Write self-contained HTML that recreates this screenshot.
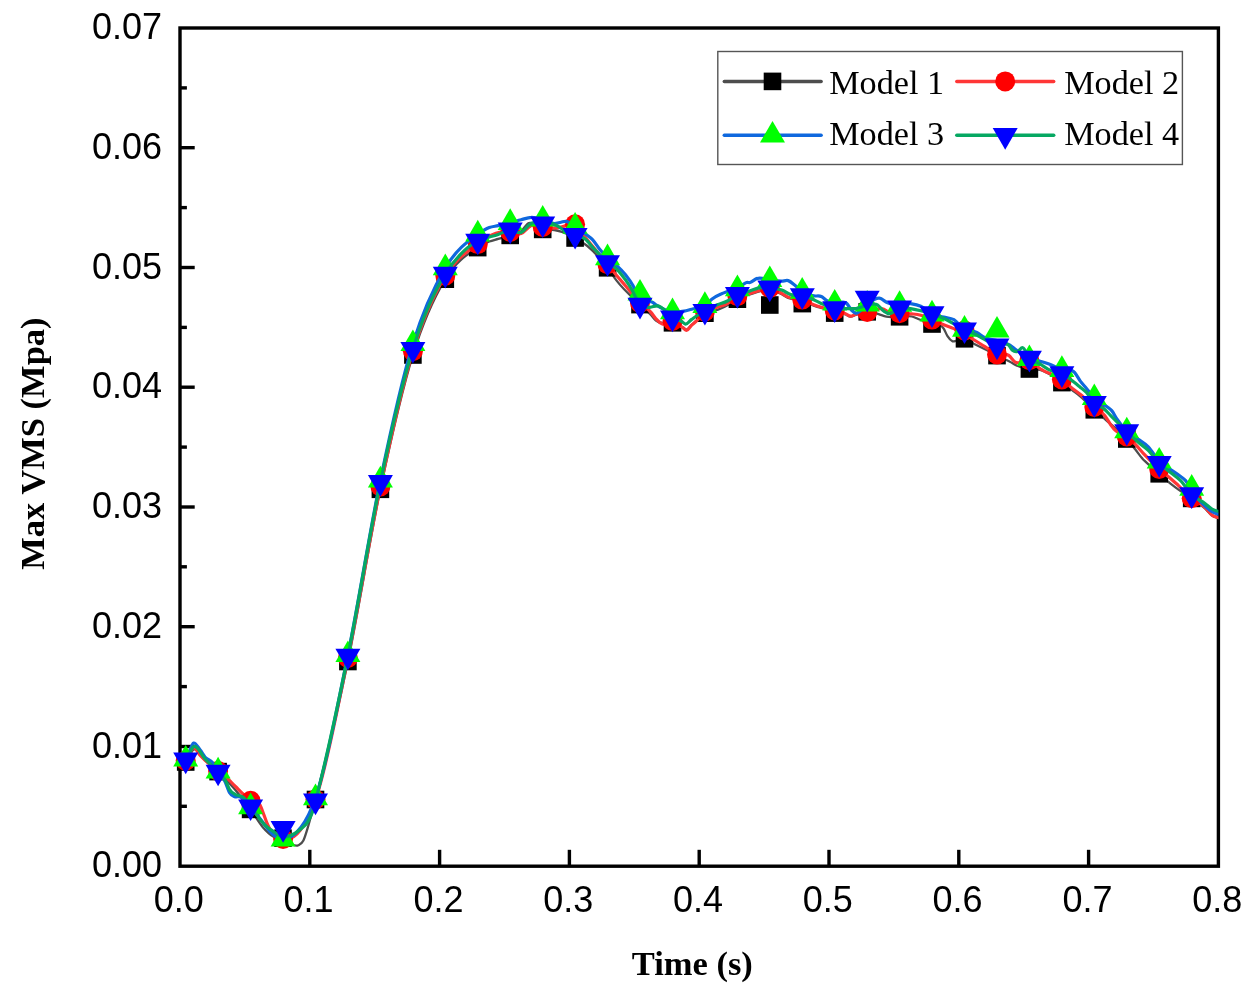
<!DOCTYPE html>
<html lang="en">
<head>
<meta charset="utf-8">
<title>Max VMS vs Time</title>
<style>
html,body{margin:0;padding:0;background:#fff;}
body{width:1256px;height:993px;overflow:hidden;}
svg{display:block;filter:blur(0.45px);}
</style>
</head>
<body>
<svg width="1256" height="993" viewBox="0 0 1256 993">
<defs><clipPath id="plot"><rect x="175.0" y="28.0" width="1043.4" height="838.2"/></clipPath></defs>
<rect width="1256" height="993" fill="#fff"/>
<g stroke="#000" stroke-width="3.4" fill="none">
<path d="M309.8 866.2V849.8"/>
<path d="M439.6 866.2V849.8"/>
<path d="M569.4 866.2V849.8"/>
<path d="M699.2 866.2V849.8"/>
<path d="M829.0 866.2V849.8"/>
<path d="M958.8 866.2V849.8"/>
<path d="M1088.6 866.2V849.8"/>
<path d="M180.0 806.3H186.9"/>
<path d="M180.0 746.5H194.7"/>
<path d="M180.0 686.6H186.9"/>
<path d="M180.0 626.7H194.7"/>
<path d="M180.0 566.8H186.9"/>
<path d="M180.0 507.0H194.7"/>
<path d="M180.0 447.1H186.9"/>
<path d="M180.0 387.2H194.7"/>
<path d="M180.0 327.4H186.9"/>
<path d="M180.0 267.5H194.7"/>
<path d="M180.0 207.6H186.9"/>
<path d="M180.0 147.7H194.7"/>
<path d="M180.0 87.9H186.9"/>
</g>
<rect x="180.0" y="28.0" width="1038.4" height="838.2" fill="none" stroke="#000" stroke-width="3.4"/>
<path clip-path="url(#plot)" d="M180.0 761.0C181.9 761.3 183.8 763.1 185.7 762.0C188.3 760.5 191.0 750.9 193.6 749.5C197.4 747.4 201.2 757.0 205.0 760.5C209.4 764.5 213.7 767.5 218.1 771.6C228.9 781.8 239.8 794.5 250.6 809.4C254.7 815.1 258.9 822.7 263.0 827.4C266.4 831.3 269.8 834.5 273.2 836.5C276.5 838.5 279.8 838.0 283.1 839.5C285.4 840.6 287.7 842.6 290.0 843.5C292.8 844.6 295.5 846.6 298.3 845.2C300.0 844.4 301.7 844.0 303.4 840.5C304.7 837.8 306.1 833.2 307.4 828.9C308.4 825.6 309.4 821.9 310.4 818.3C322.9 773.5 335.4 721.2 347.9 661.5C358.7 609.7 369.6 540.4 380.4 489.3C391.2 438.2 402.1 390.0 412.9 355.0C423.7 320.1 434.5 297.1 445.3 279.2C456.1 261.2 467.0 254.6 477.8 247.6C481.6 245.1 485.5 243.0 489.3 241.5C492.3 240.3 495.2 239.8 498.2 238.9C502.2 237.7 506.2 236.7 510.2 235.4C513.8 234.2 517.4 234.3 521.0 231.5C523.6 229.5 526.2 223.9 528.8 223.0C530.9 222.3 532.9 223.6 535.0 224.5C537.6 225.6 540.1 228.4 542.7 229.4C546.6 231.0 550.4 229.3 554.3 230.0C556.8 230.4 559.4 231.1 561.9 231.9C566.3 233.3 570.7 235.5 575.1 238.0C579.2 240.3 583.3 242.7 587.4 246.0C594.1 251.5 600.8 259.0 607.5 267.8C610.5 271.8 613.6 276.7 616.6 280.6C624.4 290.7 632.2 297.0 640.0 304.6C643.7 308.2 647.3 311.0 651.0 315.0C652.7 316.8 654.3 319.2 656.0 320.7C661.5 325.7 667.0 321.1 672.5 322.8C675.9 323.9 679.4 325.2 682.8 327.2C684.1 327.9 685.3 329.7 686.6 329.6C688.3 329.5 690.0 326.3 691.7 324.8C693.4 323.3 695.1 321.9 696.8 320.4C699.5 318.0 702.2 314.9 704.9 313.2C709.0 310.6 713.1 311.4 717.2 309.9C720.6 308.7 724.0 307.6 727.4 305.4C730.7 303.3 734.1 299.1 737.4 297.2C741.6 294.9 745.8 295.5 750.0 294.3C752.5 293.6 755.1 292.5 757.6 291.8C761.7 290.7 765.7 289.1 769.8 289.5C773.8 289.9 777.8 292.2 781.8 294.3C783.9 295.4 786.1 297.0 788.2 298.0C792.9 300.1 797.5 299.1 802.2 300.6C806.0 301.8 809.9 304.2 813.7 305.6C816.2 306.5 818.8 307.3 821.3 308.0C825.8 309.3 830.2 310.2 834.7 311.4C838.3 312.4 841.9 313.0 845.5 314.4C847.2 315.0 848.9 316.5 850.6 316.6C852.3 316.7 854.0 315.5 855.7 315.0C859.5 313.8 863.4 311.7 867.2 311.6C871.0 311.5 874.9 313.0 878.7 314.1C881.2 314.9 883.8 316.2 886.3 316.7C890.7 317.7 895.2 316.8 899.6 316.8C903.7 316.8 907.7 315.5 911.8 316.5C913.9 317.0 916.1 318.2 918.2 319.0C922.8 320.8 927.4 322.3 932.0 324.0C935.9 325.5 939.8 322.3 943.7 328.6C945.0 330.6 946.2 334.2 947.5 336.2C949.2 338.9 950.9 340.7 952.6 341.3C953.9 341.7 955.1 340.9 956.4 340.7C959.1 340.2 961.8 338.5 964.5 338.8C967.8 339.1 971.0 342.2 974.3 343.9C977.7 345.6 981.1 347.3 984.5 349.0C988.7 351.1 992.8 353.5 997.0 355.6C1001.3 357.8 1005.7 359.3 1010.0 361.7C1012.0 362.8 1014.0 364.2 1016.0 365.2C1020.5 367.4 1024.9 368.2 1029.4 369.0C1033.0 369.6 1036.6 368.9 1040.2 370.0C1042.9 370.8 1045.6 372.2 1048.3 373.6C1052.8 376.0 1057.4 379.4 1061.9 382.6C1065.4 385.1 1068.9 387.8 1072.4 390.4C1075.1 392.4 1077.8 394.3 1080.5 396.5C1085.1 400.3 1089.7 405.6 1094.3 409.8C1098.2 413.4 1102.1 416.6 1106.0 420.1C1112.9 426.3 1119.9 431.1 1126.8 439.0C1129.6 442.2 1132.4 445.8 1135.2 449.3C1137.6 452.3 1139.9 455.8 1142.3 458.4C1143.6 459.9 1145.0 461.1 1146.3 462.4C1150.6 466.6 1154.9 470.0 1159.2 473.8C1163.0 477.1 1166.7 480.6 1170.5 483.6C1173.2 485.7 1175.8 487.7 1178.5 489.6C1182.9 492.8 1187.3 495.3 1191.7 498.4C1196.1 501.6 1200.6 504.4 1205.0 508.5C1207.3 510.6 1209.7 513.9 1212.0 515.5C1214.2 517.0 1216.4 517.4 1218.6 518.2C1220.7 518.9 1222.9 519.4 1225.0 520.0" fill="none" stroke="#4d4d4d" stroke-width="2.3" stroke-linejoin="round" stroke-linecap="round"/>
<g><rect x="176.9" y="753.2" width="17.6" height="17.6" fill="#000000"/><rect x="209.3" y="762.8" width="17.6" height="17.6" fill="#000000"/><rect x="241.8" y="800.6" width="17.6" height="17.6" fill="#000000"/><rect x="274.2" y="829.4" width="17.6" height="17.6" fill="#000000"/><rect x="306.7" y="790.7" width="17.6" height="17.6" fill="#000000"/><rect x="339.1" y="652.7" width="17.6" height="17.6" fill="#000000"/><rect x="371.6" y="480.5" width="17.6" height="17.6" fill="#000000"/><rect x="404.1" y="346.2" width="17.6" height="17.6" fill="#000000"/><rect x="436.5" y="270.4" width="17.6" height="17.6" fill="#000000"/><rect x="468.9" y="238.8" width="17.6" height="17.6" fill="#000000"/><rect x="501.4" y="226.6" width="17.6" height="17.6" fill="#000000"/><rect x="533.9" y="220.6" width="17.6" height="17.6" fill="#000000"/><rect x="566.3" y="229.2" width="17.6" height="17.6" fill="#000000"/><rect x="598.8" y="259.0" width="17.6" height="17.6" fill="#000000"/><rect x="631.2" y="295.8" width="17.6" height="17.6" fill="#000000"/><rect x="663.7" y="314.0" width="17.6" height="17.6" fill="#000000"/><rect x="696.1" y="304.4" width="17.6" height="17.6" fill="#000000"/><rect x="728.6" y="290.4" width="17.6" height="17.6" fill="#000000"/><rect x="761.0" y="296.2" width="17.6" height="17.6" fill="#000000"/><rect x="793.5" y="294.8" width="17.6" height="17.6" fill="#000000"/><rect x="825.9" y="304.3" width="17.6" height="17.6" fill="#000000"/><rect x="858.4" y="303.0" width="17.6" height="17.6" fill="#000000"/><rect x="890.8" y="308.0" width="17.6" height="17.6" fill="#000000"/><rect x="923.2" y="315.2" width="17.6" height="17.6" fill="#000000"/><rect x="955.7" y="330.0" width="17.6" height="17.6" fill="#000000"/><rect x="988.2" y="346.8" width="17.6" height="17.6" fill="#000000"/><rect x="1020.6" y="360.2" width="17.6" height="17.6" fill="#000000"/><rect x="1053.1" y="373.8" width="17.6" height="17.6" fill="#000000"/><rect x="1085.5" y="401.0" width="17.6" height="17.6" fill="#000000"/><rect x="1118.0" y="430.2" width="17.6" height="17.6" fill="#000000"/><rect x="1150.4" y="465.0" width="17.6" height="17.6" fill="#000000"/><rect x="1182.9" y="489.6" width="17.6" height="17.6" fill="#000000"/></g>
<path clip-path="url(#plot)" d="M180.0 760.5C181.9 760.6 183.8 762.0 185.7 760.7C188.3 758.9 191.0 747.9 193.6 747.6C195.8 747.4 198.0 753.0 200.2 755.4C206.2 762.0 212.1 766.0 218.1 771.0C221.5 773.8 225.0 776.1 228.4 779.3C230.7 781.5 233.1 784.0 235.4 786.4C238.1 789.1 240.8 792.0 243.5 794.5C245.9 796.7 248.2 799.1 250.6 800.7C253.7 802.9 256.9 799.1 260.0 805.0C261.4 807.6 262.7 811.7 264.1 815.3C265.1 817.9 266.1 821.0 267.1 823.4C272.4 836.3 277.8 837.7 283.1 839.0C293.9 841.7 304.7 829.7 315.5 799.5C326.3 769.3 337.1 710.1 347.9 658.0C358.7 605.8 369.6 537.6 380.4 486.5C391.2 435.4 402.1 386.5 412.9 351.3C423.7 316.3 434.5 293.6 445.3 275.7C456.1 257.8 467.0 252.2 477.8 244.1C482.5 240.6 487.1 237.2 491.8 235.0C494.4 233.8 496.9 232.8 499.5 232.2C503.1 231.4 506.6 231.8 510.2 232.0C513.8 232.2 517.5 234.7 521.1 233.5C524.5 232.3 527.9 226.7 531.3 225.5C535.1 224.1 538.9 226.5 542.7 226.9C546.6 227.3 550.4 228.3 554.3 228.1C556.8 227.9 559.4 227.3 561.9 226.8C566.3 226.0 570.7 221.7 575.1 224.3C579.1 226.6 583.0 234.5 587.0 239.5C593.8 248.0 600.7 255.8 607.5 264.2C610.5 267.9 613.6 271.9 616.6 275.5C619.6 279.0 622.5 282.2 625.5 285.7C630.3 291.3 635.2 298.2 640.0 303.0C643.7 306.7 647.3 308.2 651.0 312.4C652.7 314.3 654.3 317.0 656.0 318.8C658.1 321.1 660.3 323.1 662.4 323.9C665.8 325.2 669.1 320.4 672.5 321.0C675.9 321.6 679.4 325.4 682.8 327.7C684.1 328.6 685.3 330.3 686.6 330.3C688.3 330.2 690.0 326.8 691.7 325.2C693.4 323.6 695.1 322.4 696.8 320.7C699.5 318.0 702.2 313.6 704.9 311.4C709.0 308.0 713.1 308.8 717.2 307.3C720.6 306.1 724.0 305.4 727.4 303.5C730.7 301.6 734.1 297.8 737.4 296.1C741.4 294.1 745.5 294.7 749.5 293.6C752.6 292.8 755.7 291.6 758.8 290.8C762.5 289.8 766.1 288.2 769.8 288.5C773.8 288.8 777.8 291.2 781.8 293.3C783.9 294.4 786.1 296.1 788.2 297.1C792.9 299.3 797.5 298.1 802.2 299.6C806.0 300.9 809.9 303.4 813.7 304.8C816.2 305.8 818.8 306.6 821.3 307.3C825.8 308.6 830.2 309.2 834.7 310.4C838.3 311.4 841.9 312.1 845.5 313.7C847.2 314.4 848.9 316.1 850.6 316.2C852.3 316.3 854.0 314.8 855.7 314.3C859.5 313.1 863.4 312.7 867.2 312.0C872.7 311.0 878.3 306.8 883.8 309.2C885.5 309.9 887.2 311.6 888.9 312.4C892.5 314.0 896.0 313.1 899.6 313.3C903.7 313.6 907.7 313.5 911.8 313.9C914.8 314.2 917.8 314.4 920.8 315.2C924.5 316.2 928.3 318.0 932.0 319.6C935.9 321.2 939.8 323.2 943.7 324.8C947.1 326.2 950.5 327.1 953.9 328.6C957.4 330.2 961.0 332.2 964.5 334.2C967.8 336.0 971.0 338.0 974.3 340.0C977.7 342.1 981.1 344.2 984.5 346.4C988.7 349.0 992.8 352.9 997.0 354.4C1000.9 355.8 1004.8 352.6 1008.7 355.4C1010.8 356.9 1012.9 360.5 1015.0 362.0C1019.8 365.3 1024.6 358.4 1029.4 360.3C1033.0 361.7 1036.6 366.3 1040.2 368.8C1047.4 373.8 1054.7 374.1 1061.9 379.4C1065.4 382.0 1068.9 385.6 1072.4 388.4C1075.1 390.6 1077.8 392.3 1080.5 394.5C1085.1 398.2 1089.7 403.0 1094.3 407.0C1097.8 410.0 1101.2 411.2 1104.7 415.6C1106.7 418.1 1108.7 422.0 1110.7 424.7C1112.2 426.7 1113.6 428.7 1115.1 430.2C1119.0 434.3 1122.9 433.5 1126.8 436.4C1130.0 438.8 1133.1 442.0 1136.3 445.3C1139.0 448.1 1141.6 451.5 1144.3 454.4C1149.3 459.8 1154.2 464.5 1159.2 469.0C1163.0 472.4 1166.7 475.2 1170.5 478.5C1173.2 480.8 1175.8 483.2 1178.5 485.6C1182.9 489.6 1187.3 494.6 1191.7 498.2C1196.1 501.9 1200.6 503.1 1205.0 507.4C1207.3 509.6 1209.7 513.4 1212.0 515.1C1214.2 516.7 1216.4 516.9 1218.6 517.6C1220.7 518.2 1222.9 518.5 1225.0 519.0" fill="none" stroke="#FF3636" stroke-width="3.2" stroke-linejoin="round" stroke-linecap="round"/>
<g><circle cx="185.7" cy="760.7" r="10.0" fill="#FF0000"/><circle cx="218.1" cy="771.0" r="10.0" fill="#FF0000"/><circle cx="250.6" cy="800.7" r="10.0" fill="#FF0000"/><circle cx="283.1" cy="839.0" r="10.0" fill="#FF0000"/><circle cx="315.5" cy="799.5" r="10.0" fill="#FF0000"/><circle cx="347.9" cy="658.0" r="10.0" fill="#FF0000"/><circle cx="380.4" cy="486.5" r="10.0" fill="#FF0000"/><circle cx="412.9" cy="351.3" r="10.0" fill="#FF0000"/><circle cx="445.3" cy="275.7" r="10.0" fill="#FF0000"/><circle cx="477.8" cy="244.1" r="10.0" fill="#FF0000"/><circle cx="510.2" cy="232.0" r="10.0" fill="#FF0000"/><circle cx="542.7" cy="226.9" r="10.0" fill="#FF0000"/><circle cx="575.1" cy="224.3" r="10.0" fill="#FF0000"/><circle cx="607.5" cy="264.2" r="10.0" fill="#FF0000"/><circle cx="640.0" cy="303.0" r="10.0" fill="#FF0000"/><circle cx="672.5" cy="321.0" r="10.0" fill="#FF0000"/><circle cx="704.9" cy="311.4" r="10.0" fill="#FF0000"/><circle cx="737.4" cy="296.1" r="10.0" fill="#FF0000"/><circle cx="769.8" cy="288.0" r="10.0" fill="#FF0000"/><circle cx="802.2" cy="299.6" r="10.0" fill="#FF0000"/><circle cx="834.7" cy="310.4" r="10.0" fill="#FF0000"/><circle cx="867.2" cy="312.0" r="10.0" fill="#FF0000"/><circle cx="899.6" cy="313.3" r="10.0" fill="#FF0000"/><circle cx="932.0" cy="319.6" r="10.0" fill="#FF0000"/><circle cx="964.5" cy="330.5" r="10.0" fill="#FF0000"/><circle cx="997.0" cy="354.4" r="10.0" fill="#FF0000"/><circle cx="1029.4" cy="360.3" r="10.0" fill="#FF0000"/><circle cx="1061.9" cy="379.4" r="10.0" fill="#FF0000"/><circle cx="1094.3" cy="407.0" r="10.0" fill="#FF0000"/><circle cx="1126.8" cy="436.4" r="10.0" fill="#FF0000"/><circle cx="1159.2" cy="469.0" r="10.0" fill="#FF0000"/><circle cx="1191.7" cy="498.2" r="10.0" fill="#FF0000"/></g>
<path clip-path="url(#plot)" d="M180.0 758.0C181.9 758.4 183.8 760.7 185.7 759.3C188.3 757.4 191.0 744.0 193.6 743.1C195.8 742.3 198.0 747.3 200.2 750.1C201.9 752.2 203.5 755.3 205.2 757.2C207.6 759.9 209.9 759.4 212.3 762.2C214.2 764.5 216.2 768.2 218.1 771.2C220.5 775.0 223.0 777.1 225.4 782.4C226.7 785.3 228.1 790.1 229.4 792.4C231.1 795.3 232.7 795.7 234.4 796.5C236.4 797.5 238.5 796.1 240.5 797.0C243.9 798.4 247.2 803.7 250.6 807.0C261.4 817.7 272.3 840.8 283.1 839.3C293.9 837.8 304.7 828.8 315.5 798.0C326.3 767.2 337.1 707.7 347.9 654.8C358.7 601.8 369.6 532.0 380.4 480.2C391.2 428.4 402.1 379.2 412.9 343.8C423.7 308.5 434.5 286.3 445.3 268.0C456.1 249.7 467.0 241.8 477.8 234.2C481.6 231.5 485.5 228.9 489.3 227.5C492.3 226.4 495.2 226.3 498.2 225.6C502.2 224.7 506.2 223.7 510.2 222.7C513.8 221.8 517.5 220.7 521.1 219.8C524.5 218.9 527.9 217.4 531.3 217.3C535.1 217.1 538.9 218.4 542.7 219.4C546.6 220.4 550.4 223.5 554.3 223.5C556.5 223.5 558.8 222.6 561.0 222.2C562.6 221.9 564.1 221.2 565.7 221.3C568.8 221.5 572.0 224.5 575.1 226.5C578.8 228.8 582.4 231.7 586.1 234.5C588.2 236.1 590.4 237.4 592.5 239.6C595.0 242.3 597.6 246.7 600.1 249.8C602.6 252.8 605.0 255.6 607.5 258.0C610.5 260.9 613.6 262.5 616.6 265.3C619.6 268.1 622.5 271.0 625.5 274.8C628.0 278.0 630.6 281.1 633.1 285.7C635.4 289.9 637.7 297.2 640.0 300.5C644.1 306.3 648.1 299.9 652.2 302.2C653.5 302.9 654.7 304.0 656.0 304.8C661.5 308.3 667.0 311.3 672.5 312.0C676.4 312.5 680.2 311.8 684.1 311.1C686.6 310.6 689.2 309.8 691.7 309.2C696.1 308.1 700.5 308.8 704.9 305.7C707.3 304.0 709.7 300.8 712.1 299.0C715.1 296.7 718.0 295.3 721.0 294.0C722.7 293.2 724.4 292.6 726.1 292.0C729.9 290.7 733.6 290.9 737.4 289.0C740.4 287.4 743.5 283.1 746.5 282.5C747.7 282.3 748.8 282.7 750.0 282.5C752.4 282.0 754.8 279.1 757.2 278.4C761.4 277.0 765.6 279.4 769.8 279.9C773.8 280.4 777.8 281.3 781.8 281.2C783.9 281.1 786.1 280.0 788.2 280.6C790.3 281.2 792.5 283.4 794.6 285.0C797.1 286.9 799.7 289.8 802.2 291.5C806.0 294.1 809.9 295.1 813.7 295.9C816.2 296.4 818.8 295.3 821.3 296.5C823.0 297.3 824.7 299.3 826.4 300.3C829.2 302.0 831.9 302.7 834.7 303.3C838.7 304.2 842.8 299.6 846.8 303.5C848.5 305.1 850.2 308.8 851.9 310.5C853.2 311.7 854.4 312.7 855.7 313.1C859.5 314.3 863.4 306.4 867.2 304.0C871.2 301.4 875.3 297.7 879.4 298.2C882.1 298.6 884.8 301.7 887.6 302.8C891.6 304.3 895.6 304.4 899.6 304.6C903.7 304.8 907.7 303.3 911.8 303.8C914.8 304.2 917.8 304.9 920.8 306.3C924.5 308.0 928.3 312.4 932.0 314.2C935.9 316.1 939.8 316.1 943.7 317.1C947.1 318.0 950.5 317.7 953.9 319.7C957.4 321.8 961.0 327.4 964.5 329.5C968.6 332.0 972.7 330.4 976.8 332.4C979.4 333.7 981.9 336.2 984.5 337.5C988.7 339.6 992.8 339.2 997.0 340.5C1001.3 341.8 1005.6 342.5 1009.9 345.2C1011.6 346.3 1013.3 347.8 1015.0 349.0C1019.8 352.5 1024.6 356.9 1029.4 358.9C1033.0 360.4 1036.6 360.2 1040.2 361.2C1042.9 361.9 1045.6 362.7 1048.3 363.7C1052.8 365.3 1057.4 368.3 1061.9 369.7C1066.1 371.0 1070.3 367.7 1074.5 372.3C1076.5 374.5 1078.5 378.7 1080.5 381.4C1082.5 384.1 1084.5 386.0 1086.5 388.4C1089.1 391.5 1091.7 395.3 1094.3 397.9C1098.4 402.1 1102.6 403.3 1106.7 406.5C1108.4 407.8 1110.0 408.6 1111.7 410.6C1113.4 412.6 1115.0 416.1 1116.7 418.6C1120.1 423.6 1123.4 427.8 1126.8 431.1C1130.6 434.9 1134.5 436.5 1138.3 439.3C1141.6 441.7 1145.0 443.4 1148.3 446.8C1151.9 450.5 1155.6 457.5 1159.2 461.3C1163.0 465.2 1166.7 466.8 1170.5 469.5C1173.9 471.9 1177.2 473.9 1180.6 476.5C1182.3 477.8 1183.9 478.6 1185.6 480.6C1187.6 483.1 1189.7 487.9 1191.7 491.0C1196.1 497.8 1200.6 502.0 1205.0 506.0C1207.3 508.1 1209.7 510.2 1212.0 511.6C1214.2 512.9 1216.4 513.7 1218.6 514.4C1220.7 515.1 1222.9 515.5 1225.0 516.0" fill="none" stroke="#0F68DE" stroke-width="3.2" stroke-linejoin="round" stroke-linecap="round"/>
<g><path d="M185.7 744.9L198.2 766.5L173.2 766.5Z" fill="#00FF00"/><path d="M218.1 756.8L230.6 778.4L205.6 778.4Z" fill="#00FF00"/><path d="M250.6 792.6L263.1 814.2L238.1 814.2Z" fill="#00FF00"/><path d="M283.1 824.9L295.6 846.5L270.6 846.5Z" fill="#00FF00"/><path d="M315.5 783.6L328.0 805.2L303.0 805.2Z" fill="#00FF00"/><path d="M347.9 640.4L360.4 662.0L335.4 662.0Z" fill="#00FF00"/><path d="M380.4 465.8L392.9 487.4L367.9 487.4Z" fill="#00FF00"/><path d="M412.9 329.4L425.4 351.0L400.4 351.0Z" fill="#00FF00"/><path d="M445.3 253.6L457.8 275.2L432.8 275.2Z" fill="#00FF00"/><path d="M477.8 219.8L490.2 241.4L465.2 241.4Z" fill="#00FF00"/><path d="M510.2 208.3L522.7 229.9L497.7 229.9Z" fill="#00FF00"/><path d="M542.7 205.0L555.2 226.6L530.2 226.6Z" fill="#00FF00"/><path d="M575.1 212.1L587.6 233.7L562.6 233.7Z" fill="#00FF00"/><path d="M607.5 243.6L620.0 265.2L595.0 265.2Z" fill="#00FF00"/><path d="M640.0 279.0L652.5 300.6L627.5 300.6Z" fill="#00FF00"/><path d="M672.5 297.6L685.0 319.2L660.0 319.2Z" fill="#00FF00"/><path d="M704.9 291.3L717.4 312.9L692.4 312.9Z" fill="#00FF00"/><path d="M737.4 274.6L749.9 296.2L724.9 296.2Z" fill="#00FF00"/><path d="M769.8 265.5L782.3 287.1L757.3 287.1Z" fill="#00FF00"/><path d="M802.2 277.1L814.8 298.7L789.8 298.7Z" fill="#00FF00"/><path d="M834.7 288.9L847.2 310.5L822.2 310.5Z" fill="#00FF00"/><path d="M867.2 289.9L879.7 311.5L854.7 311.5Z" fill="#00FF00"/><path d="M899.6 290.2L912.1 311.8L887.1 311.8Z" fill="#00FF00"/><path d="M932.0 299.8L944.5 321.4L919.5 321.4Z" fill="#00FF00"/><path d="M964.5 315.1L977.0 336.7L952.0 336.7Z" fill="#00FF00"/><path d="M997.0 315.9L1009.5 337.5L984.5 337.5Z" fill="#00FF00"/><path d="M1029.4 344.5L1041.9 366.1L1016.9 366.1Z" fill="#00FF00"/><path d="M1061.9 355.3L1074.4 376.9L1049.4 376.9Z" fill="#00FF00"/><path d="M1094.3 383.5L1106.8 405.1L1081.8 405.1Z" fill="#00FF00"/><path d="M1126.8 416.7L1139.2 438.3L1114.2 438.3Z" fill="#00FF00"/><path d="M1159.2 446.9L1171.7 468.5L1146.7 468.5Z" fill="#00FF00"/><path d="M1191.7 474.1L1204.2 495.7L1179.2 495.7Z" fill="#00FF00"/></g>
<path clip-path="url(#plot)" d="M180.0 759.0C181.9 759.3 183.8 761.0 185.7 759.8C188.3 758.2 191.0 748.1 193.6 746.6C197.5 744.5 201.3 755.2 205.2 759.2C209.5 763.7 213.8 767.2 218.1 771.9C220.5 774.6 223.0 775.9 225.4 780.4C226.7 782.9 228.1 787.1 229.4 789.4C231.4 792.8 233.4 793.2 235.4 794.5C238.1 796.2 240.8 795.2 243.5 797.5C245.9 799.5 248.2 803.7 250.6 806.7C255.6 813.1 260.6 821.1 265.6 825.7C268.1 828.0 270.7 829.7 273.2 831.4C276.5 833.6 279.8 836.6 283.1 837.0C285.5 837.3 287.9 836.4 290.3 835.5C293.7 834.2 297.0 832.2 300.4 829.4C302.7 827.4 305.1 826.1 307.4 822.4C309.1 819.7 310.7 817.4 312.4 812.3C313.4 809.1 314.5 804.7 315.5 800.8C326.3 760.0 337.1 708.9 347.9 655.9C358.7 602.7 369.6 533.4 380.4 482.3C391.2 431.2 402.1 383.8 412.9 349.1C423.7 314.5 434.5 291.5 445.3 274.0C450.2 266.1 455.1 260.1 460.0 254.9C465.9 248.6 471.9 244.0 477.8 240.9C481.6 238.9 485.5 238.2 489.3 237.0C492.3 236.1 495.2 235.5 498.2 234.5C502.2 233.2 506.2 230.0 510.2 229.8C513.8 229.6 517.5 233.8 521.1 232.5C524.5 231.3 527.9 224.8 531.3 223.2C535.1 221.5 538.9 223.6 542.7 223.7C546.1 223.8 549.6 222.9 553.0 223.9C556.0 224.8 558.9 226.6 561.9 228.8C563.2 229.7 564.4 231.0 565.7 231.9C568.8 234.0 572.0 234.1 575.1 235.2C578.3 236.4 581.6 236.4 584.8 238.8C587.8 241.0 590.8 245.3 593.8 248.5C598.4 253.3 602.9 258.5 607.5 262.4C610.5 265.0 613.6 266.1 616.6 269.1C619.6 272.0 622.5 275.8 625.5 279.9C627.6 282.8 629.7 286.0 631.8 289.5C634.5 294.1 637.3 301.9 640.0 305.0C643.2 308.7 646.5 307.2 649.7 307.3C652.7 307.4 655.6 305.1 658.6 306.1C660.3 306.7 662.0 307.9 663.7 309.2C666.6 311.4 669.6 315.8 672.5 317.8C675.5 319.9 678.5 319.5 681.5 321.3C682.9 322.1 684.2 323.9 685.5 324.1C687.6 324.3 689.6 320.9 691.7 319.4C693.8 317.8 696.0 316.3 698.1 315.0C700.4 313.6 702.6 312.4 704.9 311.1C709.0 308.8 713.1 306.6 717.2 304.8C720.6 303.3 724.0 302.8 727.4 301.0C730.7 299.3 734.1 295.9 737.4 294.3C741.4 292.3 745.5 292.3 749.5 291.1C752.6 290.1 755.7 288.5 758.8 287.9C762.5 287.2 766.1 287.8 769.8 288.1C773.8 288.5 777.8 288.7 781.8 290.1C784.8 291.2 787.8 293.7 790.8 294.6C794.6 295.8 798.4 294.6 802.2 295.4C806.0 296.2 809.9 298.0 813.7 299.7C816.2 300.8 818.8 302.3 821.3 303.5C825.8 305.5 830.2 307.7 834.7 308.5C838.7 309.2 842.8 308.6 846.8 308.6C849.8 308.6 852.7 308.9 855.7 308.6C859.5 308.1 863.4 306.1 867.2 305.5C870.6 304.9 874.0 302.6 877.4 304.8C879.1 305.9 880.8 308.5 882.5 309.9C884.6 311.6 886.7 313.3 888.9 313.7C892.4 314.3 896.0 308.7 899.6 307.8C903.7 306.8 907.7 308.3 911.8 308.9C914.8 309.4 917.8 310.1 920.8 310.8C924.5 311.6 928.3 312.3 932.0 313.5C935.5 314.6 938.9 316.2 942.4 317.8C944.5 318.8 946.7 319.9 948.8 321.0C954.0 323.7 959.3 327.2 964.5 329.6C967.8 331.1 971.0 332.1 974.3 333.7C977.7 335.4 981.1 337.6 984.5 339.4C988.7 341.6 992.8 344.9 997.0 345.8C1000.9 346.7 1004.8 341.3 1008.7 345.2C1010.0 346.5 1011.2 349.2 1012.5 350.3C1014.2 351.8 1015.9 351.9 1017.6 351.5C1019.3 351.1 1021.0 347.3 1022.7 347.7C1024.9 348.2 1027.2 355.4 1029.4 358.0C1033.0 362.2 1036.6 362.0 1040.2 364.2C1042.9 365.8 1045.6 367.9 1048.3 369.3C1052.8 371.6 1057.4 371.1 1061.9 373.5C1064.7 375.0 1067.6 377.2 1070.4 379.3C1073.8 381.8 1077.1 384.6 1080.5 387.4C1082.5 389.0 1084.5 390.2 1086.5 392.4C1089.1 395.2 1091.7 400.7 1094.3 403.3C1097.4 406.5 1100.6 405.9 1103.7 408.5C1106.0 410.4 1108.4 413.3 1110.7 415.6C1112.7 417.6 1114.7 419.6 1116.7 421.6C1120.1 424.9 1123.4 428.3 1126.8 431.5C1130.6 435.2 1134.5 439.0 1138.3 442.3C1141.6 445.2 1145.0 447.1 1148.3 450.4C1151.9 454.0 1155.6 459.7 1159.2 463.3C1163.0 467.1 1166.7 469.5 1170.5 472.5C1173.9 475.2 1177.2 477.2 1180.6 480.6C1184.3 484.4 1188.0 490.8 1191.7 494.5C1196.1 498.9 1200.6 500.2 1205.0 503.5C1207.3 505.2 1209.7 507.6 1212.0 509.0C1214.2 510.3 1216.4 510.9 1218.6 511.6C1220.7 512.3 1222.9 512.5 1225.0 513.0" fill="none" stroke="#06A862" stroke-width="3.2" stroke-linejoin="round" stroke-linecap="round"/>
<g><path d="M185.7 774.2L198.2 752.6L173.2 752.6Z" fill="#0000FF"/><path d="M218.1 786.3L230.6 764.7L205.6 764.7Z" fill="#0000FF"/><path d="M250.6 821.1L263.1 799.5L238.1 799.5Z" fill="#0000FF"/><path d="M283.1 842.7L295.6 821.1L270.6 821.1Z" fill="#0000FF"/><path d="M315.5 815.2L328.0 793.6L303.0 793.6Z" fill="#0000FF"/><path d="M347.9 670.3L360.4 648.7L335.4 648.7Z" fill="#0000FF"/><path d="M380.4 496.7L392.9 475.1L367.9 475.1Z" fill="#0000FF"/><path d="M412.9 363.5L425.4 341.9L400.4 341.9Z" fill="#0000FF"/><path d="M445.3 288.4L457.8 266.8L432.8 266.8Z" fill="#0000FF"/><path d="M477.8 255.3L490.2 233.7L465.2 233.7Z" fill="#0000FF"/><path d="M510.2 244.2L522.7 222.6L497.7 222.6Z" fill="#0000FF"/><path d="M542.7 238.1L555.2 216.5L530.2 216.5Z" fill="#0000FF"/><path d="M575.1 249.6L587.6 228.0L562.6 228.0Z" fill="#0000FF"/><path d="M607.5 276.8L620.0 255.2L595.0 255.2Z" fill="#0000FF"/><path d="M640.0 319.4L652.5 297.8L627.5 297.8Z" fill="#0000FF"/><path d="M672.5 332.2L685.0 310.6L660.0 310.6Z" fill="#0000FF"/><path d="M704.9 325.5L717.4 303.9L692.4 303.9Z" fill="#0000FF"/><path d="M737.4 308.7L749.9 287.1L724.9 287.1Z" fill="#0000FF"/><path d="M769.8 302.2L782.3 280.6L757.3 280.6Z" fill="#0000FF"/><path d="M802.2 309.8L814.8 288.2L789.8 288.2Z" fill="#0000FF"/><path d="M834.7 322.9L847.2 301.3L822.2 301.3Z" fill="#0000FF"/><path d="M867.2 312.4L879.7 290.8L854.7 290.8Z" fill="#0000FF"/><path d="M899.6 322.2L912.1 300.6L887.1 300.6Z" fill="#0000FF"/><path d="M932.0 327.9L944.5 306.3L919.5 306.3Z" fill="#0000FF"/><path d="M964.5 344.0L977.0 322.4L952.0 322.4Z" fill="#0000FF"/><path d="M997.0 360.2L1009.5 338.6L984.5 338.6Z" fill="#0000FF"/><path d="M1029.4 372.4L1041.9 350.8L1016.9 350.8Z" fill="#0000FF"/><path d="M1061.9 387.9L1074.4 366.3L1049.4 366.3Z" fill="#0000FF"/><path d="M1094.3 417.7L1106.8 396.1L1081.8 396.1Z" fill="#0000FF"/><path d="M1126.8 445.9L1139.2 424.3L1114.2 424.3Z" fill="#0000FF"/><path d="M1159.2 477.7L1171.7 456.1L1146.7 456.1Z" fill="#0000FF"/><path d="M1191.7 508.9L1204.2 487.3L1179.2 487.3Z" fill="#0000FF"/></g>
<g font-family="'Liberation Sans', Arial, sans-serif" font-size="36" fill="#000">
<text x="178.8" y="911.9" text-anchor="middle">0.0</text>
<text x="308.6" y="911.9" text-anchor="middle">0.1</text>
<text x="438.4" y="911.9" text-anchor="middle">0.2</text>
<text x="568.2" y="911.9" text-anchor="middle">0.3</text>
<text x="698.0" y="911.9" text-anchor="middle">0.4</text>
<text x="827.8" y="911.9" text-anchor="middle">0.5</text>
<text x="957.6" y="911.9" text-anchor="middle">0.6</text>
<text x="1087.4" y="911.9" text-anchor="middle">0.7</text>
<text x="1217.2" y="911.9" text-anchor="middle">0.8</text>
<text x="162" y="877.2" text-anchor="end">0.00</text>
<text x="162" y="757.5" text-anchor="end">0.01</text>
<text x="162" y="637.7" text-anchor="end">0.02</text>
<text x="162" y="518.0" text-anchor="end">0.03</text>
<text x="162" y="398.2" text-anchor="end">0.04</text>
<text x="162" y="278.5" text-anchor="end">0.05</text>
<text x="162" y="158.7" text-anchor="end">0.06</text>
<text x="162" y="39.0" text-anchor="end">0.07</text>
</g>
<g font-family="'Liberation Serif', 'Times New Roman', serif" font-weight="bold" font-size="34.5" fill="#000">
<text x="692.3" y="975.3" text-anchor="middle">Time (s)</text>
<text transform="translate(44.2 443.6) rotate(-90)" text-anchor="middle">Max VMS (Mpa)</text>
</g>
<rect x="717.8" y="51.5" width="464.6" height="113" fill="#fff" stroke="#555" stroke-width="1.4"/>
<path d="M724.3 81.4H821.1" stroke="#4d4d4d" stroke-width="3.5" stroke-linecap="round" fill="none"/>
<rect x="763.7" y="72.6" width="17.6" height="17.6" fill="#000000"/>
<path d="M956.8 81.4H1053.7" stroke="#FF3636" stroke-width="3.5" stroke-linecap="round" fill="none"/>
<circle cx="1005.2" cy="81.4" r="10.0" fill="#FF0000"/>
<path d="M724.3 135.3H821.1" stroke="#0F68DE" stroke-width="3.5" stroke-linecap="round" fill="none"/>
<path d="M772.5 120.9L785.0 142.5L760.0 142.5Z" fill="#00FF00"/>
<path d="M956.8 135.3H1053.7" stroke="#06A862" stroke-width="3.5" stroke-linecap="round" fill="none"/>
<path d="M1005.2 149.7L1017.7 128.1L992.7 128.1Z" fill="#0000FF"/>
<g font-family="'Liberation Serif', 'Times New Roman', serif" font-size="34.2" fill="#000">
<text x="829.2" y="94.4">Model 1</text>
<text x="1064.2" y="94.4">Model 2</text>
<text x="829.2" y="145.0">Model 3</text>
<text x="1064.2" y="145.0">Model 4</text>
</g>
</svg>
</body>
</html>
